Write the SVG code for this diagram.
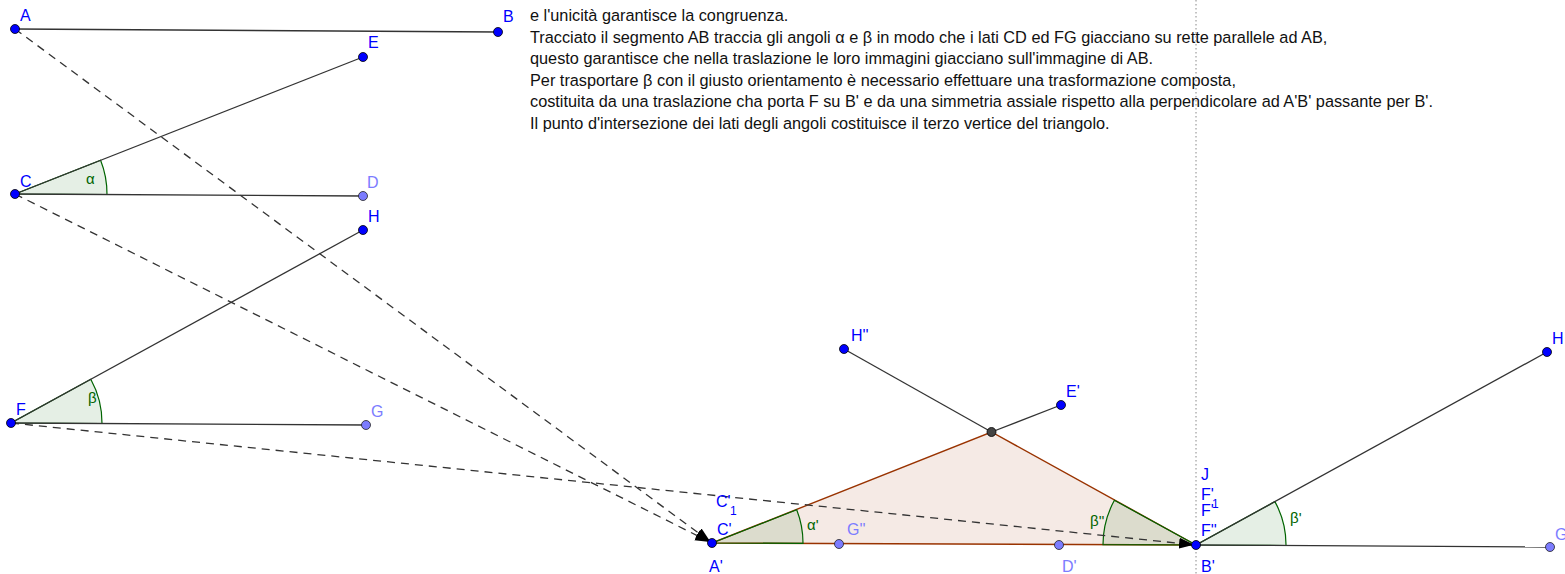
<svg xmlns="http://www.w3.org/2000/svg" width="1565" height="574" viewBox="0 0 1565 574">
<style>
text{font-family:"Liberation Sans",Arial,sans-serif;font-size:16px}
.txt{fill:#111;font-size:16.3px}
.lb{fill:#0000ff}
.lbl{fill:#7c7cff}
.ang{fill:#006400;font-size:15px}
.seg{stroke:#333;stroke-width:1.3;fill:none}
.vec{stroke:#333;stroke-width:1.3;fill:none;stroke-dasharray:8 6}
.tri{fill:#993300;fill-opacity:0.1;stroke:#993300;stroke-width:1.4}
.arc{fill:#006400;fill-opacity:0.1;stroke:#006400;stroke-width:1.2}
.pt{fill:#0000ff;stroke:#000;stroke-width:0.8}
.ptl{fill:#7c7cff;stroke:#222;stroke-width:0.8}
.ptd{fill:#444;stroke:#000;stroke-width:0.8}
.dot{stroke:#888;stroke-width:1;stroke-dasharray:1.5 2.5}
</style>
<defs>
<marker id="ah" markerUnits="userSpaceOnUse" markerWidth="18" markerHeight="12" refX="17" refY="6" orient="auto">
<path d="M0,0.5 L15,6 L0,11.5 z" fill="#000"/>
</marker>
</defs>
<rect width="1565" height="574" fill="#fff"/>

<g id="textblock">
<text class="txt" x="530" y="21">e l'unicità garantisce la congruenza.</text>
<text class="txt" x="530" y="42.5">Tracciato il segmento AB traccia gli angoli α e β in modo che i lati CD ed FG giacciano su rette parallele ad AB,</text>
<text class="txt" x="530" y="64">questo garantisce che nella traslazione le loro immagini giacciano sull'immagine di AB.</text>
<text class="txt" x="530" y="85.5">Per trasportare β con il giusto orientamento è necessario effettuare una trasformazione composta,</text>
<text class="txt" x="530" y="107">costituita da una traslazione cha porta F su B' e da una simmetria assiale rispetto alla perpendicolare ad A'B' passante per B'.</text>
<text class="txt" x="530" y="128.5">Il punto d'intersezione dei lati degli angoli costituisce il terzo vertice del triangolo.</text>
</g>

<line id="perpendicular" class="dot" x1="1196" y1="0" x2="1196" y2="574"/>

<g id="triangle">
<path class="tri" d="M712,543 L991.5,432 L1196,545 Z"/>
</g>

<g id="angles">
<path id="alpha" class="arc" d="M15,194 L107,194.5 A92,92 0 0 0 100.6,160.3 Z"/>
<path id="beta" class="arc" d="M11,423 L102,423.5 A91,91 0 0 0 90.8,379.2 Z"/>
<path id="alpha1" class="arc" d="M712,543 L803,543.4 A91,91 0 0 0 796.7,509.7 Z"/>
<path id="beta2" class="arc" d="M1196,545 L1103,544.6 A93,93 0 0 1 1114.4,500.3 Z"/>
<path id="beta1" class="arc" d="M1196,545 L1286,545.5 A90,90 0 0 0 1274.9,501.6 Z"/>
<text class="ang" x="86" y="184">α</text>
<text class="ang" x="88" y="403">β</text>
<text class="ang" x="807" y="530">α'</text>
<text class="ang" x="1090" y="526">β''</text>
<text class="ang" x="1290" y="523">β'</text>
</g>

<g id="connectors">
<line class="seg" x1="15" y1="29" x2="498" y2="32"/>
<line class="seg" x1="15" y1="194" x2="363" y2="57"/>
<line class="seg" x1="15" y1="194" x2="363" y2="196"/>
<line class="seg" x1="11" y1="423" x2="363" y2="230"/>
<line class="seg" x1="11" y1="423" x2="366" y2="425"/>
<line class="seg" x1="991.5" y1="432" x2="1061" y2="405"/>
<line class="seg" x1="991.5" y1="432" x2="844" y2="349"/>
<line class="seg" x1="1196" y1="545" x2="1547" y2="352"/>
<line class="seg" x1="1196" y1="545" x2="1550" y2="547"/>
<line class="vec" x1="15" y1="29" x2="712" y2="543" marker-end="url(#ah)"/>
<line class="vec" x1="15" y1="194" x2="712" y2="543" marker-end="url(#ah)"/>
<line class="vec" x1="11" y1="423" x2="1196" y2="545" marker-end="url(#ah)"/>
</g>

<g id="node-A"><circle class="pt" cx="15" cy="29" r="4.5"/><text class="lb" x="20" y="21">A</text></g>
<g id="node-B"><circle class="pt" cx="498" cy="32" r="4.5"/><text class="lb" x="503" y="22">B</text></g>
<g id="node-E"><circle class="pt" cx="363" cy="57" r="4.5"/><text class="lb" x="368" y="48">E</text></g>
<g id="node-C"><circle class="pt" cx="15" cy="194" r="4.5"/><text class="lb" x="20" y="187">C</text></g>
<g id="node-D"><circle class="ptl" cx="363" cy="196" r="4.5"/><text class="lbl" x="367" y="188">D</text></g>
<g id="node-H"><circle class="pt" cx="363" cy="230" r="4.5"/><text class="lb" x="368" y="222">H</text></g>
<g id="node-F"><circle class="pt" cx="11" cy="423" r="4.5"/><text class="lb" x="16" y="415">F</text></g>
<g id="node-G"><circle class="ptl" cx="366" cy="425" r="4.5"/><text class="lbl" x="371" y="417">G</text></g>
<g id="node-Aprime"><circle class="pt" cx="712" cy="543" r="4.5"/><text class="lb" x="709" y="572">A'</text><text class="lb" x="717" y="535">C'</text><text class="lb" x="716" y="507">C'</text><text class="lb" x="730" y="515" style="font-size:12px">1</text></g>
<g id="node-Gpp"><circle class="ptl" cx="839" cy="544" r="4.5"/><text class="lbl" x="847" y="535">G''</text></g>
<g id="node-Dprime"><circle class="ptl" cx="1059" cy="545" r="4.5"/><text class="lbl" x="1062" y="572">D'</text></g>
<g id="node-apex"><circle class="ptd" cx="991.5" cy="432" r="4.5"/></g>
<g id="node-Eprime"><circle class="pt" cx="1061" cy="405" r="4.5"/><text class="lb" x="1066" y="397">E'</text></g>
<g id="node-Hpp"><circle class="pt" cx="844" cy="349" r="4.5"/><text class="lb" x="851" y="341">H''</text></g>
<g id="node-Bprime"><circle class="pt" cx="1196" cy="545" r="4.5"/><text class="lb" x="1201" y="572">B'</text><text class="lb" x="1201" y="480">J</text><text class="lb" x="1201" y="500">F'</text><text class="lb" x="1212" y="508" style="font-size:12px">1</text><text class="lb" x="1201" y="516">F'</text><text class="lb" x="1201" y="536">F''</text></g>
<g id="node-H2"><circle class="pt" cx="1547" cy="352" r="4.5"/><text class="lb" x="1552" y="344">H</text></g>
<g id="node-G2"><circle class="ptl" cx="1550" cy="547" r="4.5"/><text class="lbl" x="1555" y="540">G</text></g>
</svg>
